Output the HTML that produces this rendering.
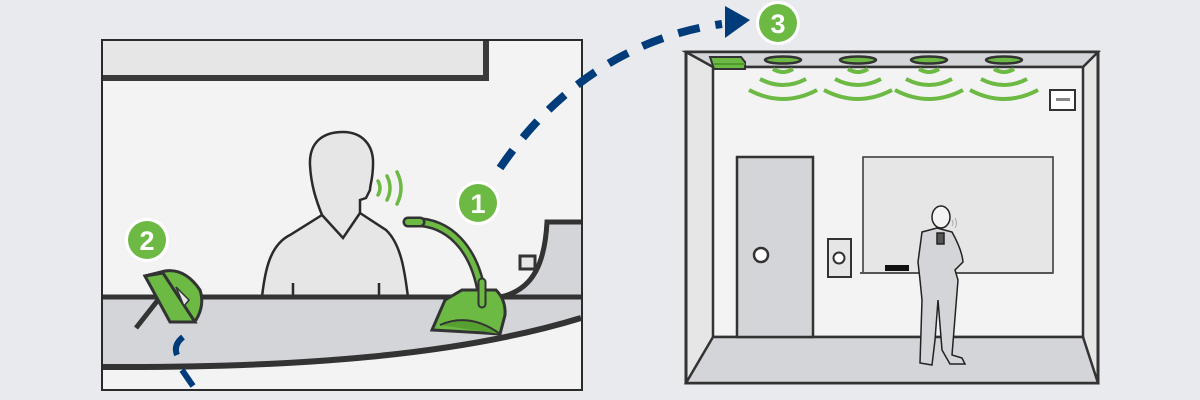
<!DOCTYPE html>
<html><head><style>
html,body{margin:0;padding:0;background:#e8eaed;}
svg{display:block;}
text{font-family:"Liberation Sans",sans-serif;font-weight:bold;}
</style></head><body>
<svg width="1200" height="400" viewBox="0 0 1200 400" xmlns="http://www.w3.org/2000/svg">
<rect width="1200" height="400" fill="#e8eaed"/>
<!-- LEFT PANEL -->
<rect x="102" y="40" width="480" height="350" fill="#f3f3f3" stroke="#2a2a2a" stroke-width="2"/>
<path d="M103 41 H486 V78 H103 Z" fill="#e6e6e6"/>
<path d="M103 78 H486 V41" fill="none" stroke="#3a3a3a" stroke-width="6"/>
<!-- raised right counter -->
<path d="M547 222 H581 V300 L520 300 L505 297 C535 290 545 260 547 222 Z" fill="#d4d5d8"/>
<path d="M581 222 H547 C545 260 535 290 500 297" fill="none" stroke="#333" stroke-width="5"/>
<rect x="520" y="256" width="15" height="13" fill="#e6e6e6" stroke="#333" stroke-width="3"/>
<!-- person -->
<path d="M262 297 C265 270 270 245 290 235 L322 215 C316 200 311 185 310 165 C309 142 323 132 343 132 C362 132 374 145 373 165 C373 178 370 185 370 190 L366 198 L360 200 L360 213 L386 230 C402 245 405 275 408 297 Z" fill="#e6e6e6" stroke="#2a2a2a" stroke-width="2.5"/>
<path d="M322 215 L343 238 L360 213" fill="none" stroke="#2a2a2a" stroke-width="2.5"/>
<path d="M293 283 V296 M379 283 V296" stroke="#2a2a2a" stroke-width="2.5"/>
<!-- sound waves -->
<g fill="none" stroke="#6cb944" stroke-width="3.5" stroke-linecap="round">
<path d="M378 181 Q382 188 378 195"/><path d="M387 176 Q393 188 387 200"/><path d="M397 172 Q405 188 397 204"/>
</g>
<!-- counter -->
<path d="M103 297 H581 V318 C460 355 300 368 103 367 Z" fill="#d4d5d8"/>
<path d="M103 297 H581" stroke="#333" stroke-width="5"/>
<path d="M103 367 C300 368 460 355 581 318" fill="none" stroke="#333" stroke-width="6"/>
<!-- mic -->
<path d="M410 222 C450 220 475 250 482 295" fill="none" stroke="#333" stroke-width="10" stroke-linecap="round"/>
<path d="M410 222 C450 220 475 250 482 295" fill="none" stroke="#6cb944" stroke-width="5" stroke-linecap="round"/>
<path d="M408 222 H420" stroke="#333" stroke-width="11" stroke-linecap="round"/>
<path d="M408 222 H420" stroke="#6cb944" stroke-width="6" stroke-linecap="round"/>
<path d="M432 330 L445 300 L462 290 L496 290 Q506 300 505 315 L500 334 Q470 332 432 330 Z" fill="#6cb944" stroke="#333" stroke-width="3"/>
<path d="M440 325 Q470 312 500 334" fill="#55a030" stroke="#333" stroke-width="2"/>
<path d="M482 282 V304" stroke="#333" stroke-width="9" stroke-linecap="round"/>
<path d="M482 282 V304" stroke="#6cb944" stroke-width="5" stroke-linecap="round"/>
<!-- device 2 -->
<path d="M136 328 L158 300" stroke="#333" stroke-width="5"/>
<path d="M145 276 L165 271 Q185 268 200 290 Q205 305 196 320 L185 322 L170 320 Z" fill="#6cb944" stroke="#333" stroke-width="3"/>
<path d="M145 276 L163 273 L195 322 L170 322 Z" fill="#6cb944" stroke="#333" stroke-width="3"/>
<path d="M176 287 L184 306 L189 300 Z" fill="#e6e6e6" stroke="#333" stroke-width="1.5"/>
<!-- dashed connectors -->
<path d="M183 337 Q173 345 177 355" fill="none" stroke="#003b7a" stroke-width="6"/>
<path d="M182 370 L193 386" fill="none" stroke="#003b7a" stroke-width="6"/>
<path d="M500 168 C560 80 640 35 722 24" fill="none" stroke="#003b7a" stroke-width="8" stroke-dasharray="22 16"/>
<path d="M725 6 L750 20 L725 38 Z" fill="#003b7a"/>
<!-- badges -->
<g>
<circle cx="478" cy="203" r="22" fill="#fff"/><circle cx="478" cy="203" r="19" fill="#6cb944"/>
<text x="478" y="213" font-size="27" fill="#fff" text-anchor="middle">1</text>
<circle cx="147" cy="240" r="22" fill="#fff"/><circle cx="147" cy="240" r="19" fill="#6cb944"/>
<text x="147" y="250" font-size="27" fill="#fff" text-anchor="middle">2</text>
<circle cx="778" cy="23" r="22" fill="#fff"/><circle cx="778" cy="23" r="19" fill="#6cb944"/>
<text x="778" y="33" font-size="27" fill="#fff" text-anchor="middle">3</text>
</g>
<!-- RIGHT ROOM -->
<rect x="686" y="52" width="412" height="331" fill="#e6e6e6" stroke="#333" stroke-width="3"/>
<path d="M686 52 L713 67 H1083 L1098 52 Z" fill="#d4d5d8" stroke="#333" stroke-width="2.5"/>
<rect x="713" y="67" width="370" height="270" fill="#f3f3f3" stroke="#333" stroke-width="2.5"/>
<path d="M713 337 L686 383 H1098 L1083 337 Z" fill="#d4d5d8" stroke="#333" stroke-width="2.5"/>
<path d="M710 57 L741 57 L745 62 L745 69 L714 69 Z" fill="#6cb944" stroke="#333" stroke-width="2"/>
<path d="M714 64 H745" stroke="#4e9a2c" stroke-width="2"/>
<g fill="#6cb944" stroke="#333" stroke-width="2.5">
<ellipse cx="783" cy="60" rx="18" ry="3.5"/><ellipse cx="858" cy="60" rx="18" ry="3.5"/>
<ellipse cx="929" cy="60" rx="18" ry="3.5"/><ellipse cx="1004" cy="60" rx="18" ry="3.5"/>
</g>
<g fill="none" stroke="#6cb944" stroke-width="4">
<g id="w"><path d="M773 69 Q783 75 793 69"/><path d="M760 79 Q783 91 806 79"/><path d="M749 90 Q783 108 817 90"/></g>
<use href="#w" x="75"/><use href="#w" x="146"/><use href="#w" x="221"/>
</g>
<rect x="1050" y="90" width="25" height="20" fill="#fff" stroke="#333" stroke-width="2"/>
<rect x="1056" y="98" width="14" height="3" fill="#888"/>
<rect x="737" y="157" width="76" height="180" fill="#d4d5d8" stroke="#333" stroke-width="2.5"/>
<circle cx="761" cy="255" r="7" fill="#fff" stroke="#333" stroke-width="2.5"/>
<rect x="828" y="239" width="23" height="38" fill="#e6e6e6" stroke="#333" stroke-width="2"/>
<circle cx="839" cy="258" r="5.5" fill="#fff" stroke="#333" stroke-width="2"/>
<rect x="863" y="157" width="190" height="116" fill="#e6e6e6" stroke="#333" stroke-width="1.5"/>
<path d="M860 273 H1053" stroke="#555" stroke-width="2"/>
<rect x="885" y="265" width="24" height="6" fill="#111"/>
<!-- small person -->
<g fill="#d4d5d8" stroke="#222" stroke-width="1.5">
<path d="M922 232 L937 228 L952 232 Q962 250 963 262 L955 270 L958 280 L952 355 L962 358 L965 364 L950 364 L942 350 L938 300 L935 340 L932 365 L920 363 L922 300 L920 280 L918 262 Z" fill="#d4d5d8"/>
<ellipse cx="941" cy="217" rx="9" ry="11" fill="#f3f3f3"/>
<rect x="937" y="233" width="7" height="11" fill="#555"/>
</g>
<g fill="none" stroke="#aaa" stroke-width="1"><path d="M952 220 Q954 223 952 226"/><path d="M955 218 Q958 223 955 228"/></g>
</svg>
</body></html>
